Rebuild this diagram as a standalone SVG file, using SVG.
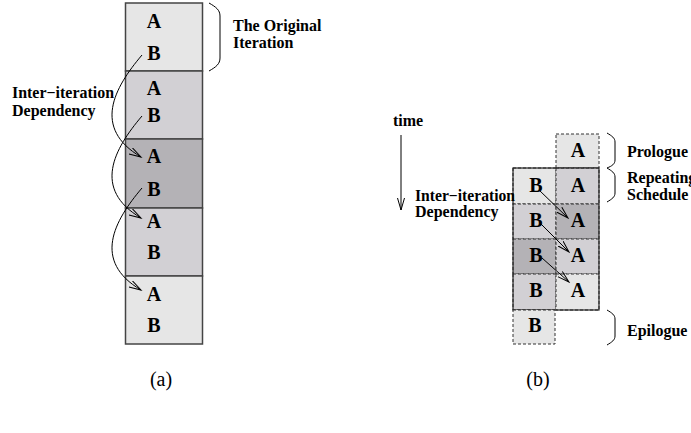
<svg xmlns="http://www.w3.org/2000/svg" width="691" height="433" viewBox="0 0 691 433">
<style>
.lt{fill:#e6e6e6}.md{fill:#d2d0d4}.dk{fill:#b4b2b6}
.box{stroke:#444;stroke-width:1.5}
.cell{stroke:#333;stroke-width:1;stroke-dasharray:3 2}
.big{fill:none;stroke:#222;stroke-width:1.2}
.L{font-family:"Liberation Serif",serif;font-weight:bold;font-size:20px;text-anchor:middle;fill:#000}
.lab{font-family:"Liberation Serif",serif;font-weight:bold;font-size:16px;fill:#000}
.cap{font-family:"Liberation Serif",serif;font-size:20px;text-anchor:middle;fill:#000}
.br{fill:none;stroke:#000;stroke-width:1}
.con{fill:none;stroke:#000;stroke-width:1}
</style>
<defs>
<marker id="ah" markerUnits="userSpaceOnUse" markerWidth="14" markerHeight="10" refX="12" refY="4" orient="auto">
<path d="M0,0.5 L12,4 L0,7.5" fill="none" stroke="#000" stroke-width="1"/>
</marker>
</defs>
<rect width="691" height="433" fill="#fff"/>
<g id="a-iter1"><rect class="box lt" x="125.5" y="3" width="77" height="68"/><text class="L" x="154" y="28">A</text><text class="L" x="154" y="60">B</text></g>
<g id="a-iter2"><rect class="box md" x="125.5" y="71" width="77" height="68"/><text class="L" x="154" y="95">A</text><text class="L" x="154" y="122">B</text></g>
<g id="a-iter3"><rect class="box dk" x="125.5" y="139" width="77" height="69"/><text class="L" x="154" y="163">A</text><text class="L" x="154" y="196">B</text></g>
<g id="a-iter4"><rect class="box md" x="125.5" y="208" width="77" height="68"/><text class="L" x="154" y="228">A</text><text class="L" x="154" y="259">B</text></g>
<g id="a-iter5"><rect class="box lt" x="125.5" y="276" width="77" height="68"/><text class="L" x="154" y="301">A</text><text class="L" x="154" y="332">B</text></g>
<g id="a-original-label"><path class="br" d="M209,3 C216,7 220,10 220,16 L220,58 C220,64 216,67 209,71"/><text class="lab" x="233" y="31">The Original</text><text class="lab" x="233" y="48">Iteration</text></g>
<g id="a-dep-label"><text class="lab" x="12" y="97.5" textLength="102" lengthAdjust="spacingAndGlyphs">Inter−iteration</text><text class="lab" x="12" y="116">Dependency</text></g>
<g id="b-prologue"><rect class="cell lt" x="556" y="134" width="43" height="34"/><text class="L" x="578" y="157">A</text></g>
<g id="b-row1"><rect class="cell lt" x="513" y="168" width="43" height="36"/><rect class="cell md" x="556" y="168" width="43" height="36"/><text class="L" x="536" y="192">B</text><text class="L" x="578" y="192">A</text></g>
<g id="b-row2"><rect class="cell md" x="513" y="204" width="43" height="35"/><rect class="cell dk" x="556" y="204" width="43" height="35"/><text class="L" x="536" y="227">B</text><text class="L" x="578" y="227">A</text></g>
<g id="b-row3"><rect class="cell dk" x="513" y="239" width="43" height="35"/><rect class="cell md" x="556" y="239" width="43" height="35"/><text class="L" x="536" y="262">B</text><text class="L" x="578" y="262">A</text></g>
<g id="b-row4"><rect class="cell md" x="513" y="274" width="43" height="36"/><rect class="cell lt" x="556" y="274" width="43" height="36"/><text class="L" x="536" y="297">B</text><text class="L" x="578" y="297">A</text></g>
<g id="b-repeating-box"><rect class="big" x="513" y="168" width="86" height="142"/></g>
<g id="b-epilogue"><rect class="cell lt" x="513" y="310" width="42" height="34"/><text class="L" x="535" y="332">B</text></g>
<g id="b-labels">
<path class="br" d="M607,133 C612,136 615,138 615,142 L615,160 C615,164 612,166 607,168"/>
<path class="br" d="M607,168 C612,171 615,173 615,177 L615,193 C615,197 612,199 607,202"/>
<path class="br" d="M607,310 C612,313 615,315 615,319 L615,336 C615,340 612,342 607,345"/>
<text class="lab" x="627" y="157">Prologue</text>
<text class="lab" x="627" y="183">Repeating</text>
<text class="lab" x="627" y="200">Schedule</text>
<text class="lab" x="627" y="336">Epilogue</text>
<text class="lab" x="393" y="126">time</text>
<text class="lab" x="415" y="200.5" textLength="100" lengthAdjust="spacingAndGlyphs">Inter−iteration</text>
<text class="lab" x="415" y="216.5">Dependency</text>
</g>
<g id="captions"><text class="cap" x="161" y="386">(a)</text><text class="cap" x="538" y="386">(b)</text></g>
<g id="connectors">
<path class="con" marker-end="url(#ah)" d="M142,55 C114,88 92,128 141,157"/>
<path class="con" marker-end="url(#ah)" d="M142,116 C114,149 92,189 141,218"/>
<path class="con" marker-end="url(#ah)" d="M142,188 C114,221 92,261 141,290"/>
<path class="con" marker-end="url(#ah)" d="M539,190 L568,218"/>
<path class="con" marker-end="url(#ah)" d="M541,224 L569,252"/>
<path class="con" marker-end="url(#ah)" d="M542,258 L569,282"/>
<path class="con" marker-end="url(#ah)" d="M401,135 L401,210"/>
</g>
</svg>
